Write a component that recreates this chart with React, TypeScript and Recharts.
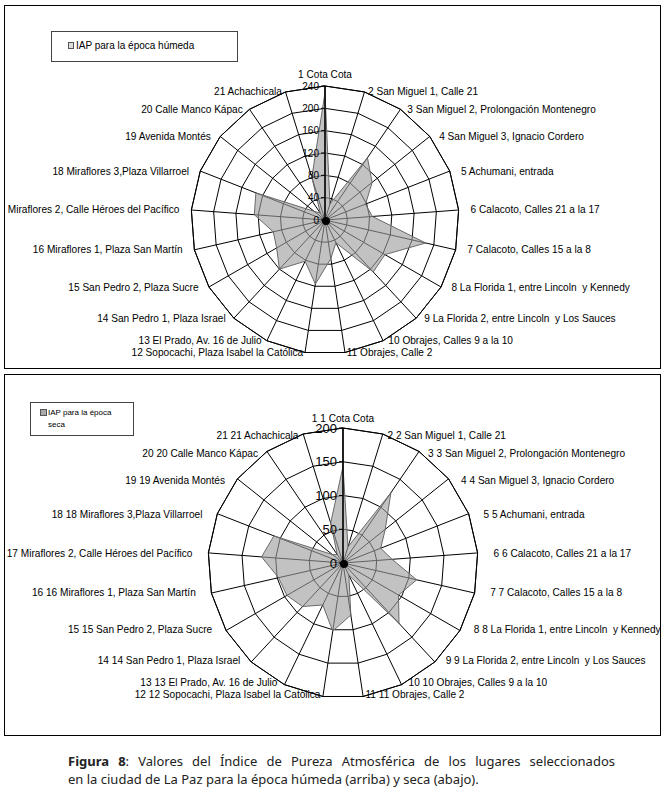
import React from "react"
import { PolarAngleAxis, PolarGrid, PolarRadiusAxis, Radar, RadarChart } from "recharts"

// sampling sites, in clockwise order from the top
const sites = [
  "Cota Cota",
  "San Miguel 1, Calle 21",
  "San Miguel 2, Prolongación Montenegro",
  "San Miguel 3, Ignacio Cordero",
  "Achumani, entrada",
  "Calacoto, Calles 21 a la 17",
  "Calacoto, Calles 15 a la 8",
  "La Florida 1, entre Lincoln  y Kennedy",
  "La Florida 2, entre Lincoln  y Los Sauces",
  "Obrajes, Calles 9 a la 10",
  "Obrajes, Calle 2",
  "Sopocachi, Plaza Isabel la Católica",
  "El Prado, Av. 16 de Julio",
  "San Pedro 1, Plaza Israel",
  "San Pedro 2, Plaza Sucre",
  "Miraflores 1, Plaza San Martín",
  "Miraflores 2, Calle Héroes del Pacífico",
  "Miraflores 3,Plaza Villarroel",
  "Avenida Montés",
  "Calle Manco Kápac",
  "Achachicala",
]

// IAP values
const humeda = [228, 30, 135, 108, 78, 85, 185, 124, 127, 45, 70, 116, 82, 120, 100, 95, 127, 133, 25, 15, 80]
const seca = [143, 25, 126, 80, 60, 73, 112, 95, 122, 20, 78, 102, 69, 88, 96, 98, 121, 110, 20, 15, 62]

const humedaTicks = [0, 40, 80, 120, 160, 200, 240]
const secaTicks = [0, 50, 100, 150, 200]

const humedaData = sites.map((site, i) => ({ site: `${i + 1} ${site}`, value: humeda[i] }))
const secaData = sites.map((site, i) => ({ site: `${i + 1} ${i + 1} ${site}`, value: seca[i] }))

const FONT = "'Liberation Sans', Arial, sans-serif"

function makeSiteTick(cx: number, cy: number, rx: number, ry: number) {
  return (props: any) => {
    const { index, payload } = props
    const a = (index / sites.length) * Math.PI * 2
    const s = Math.sin(a)
    const c = Math.cos(a)
    const x = cx + rx * s
    let y = cy - ry * c
    const anchor = s > 0.01 ? "start" : s < -0.01 ? "end" : "middle"
    if (index === 0) y -= 12
    return (
      <text
        x={x}
        y={y}
        textAnchor={anchor}
        dominantBaseline="central"
        fontSize={10.1}
        fontFamily={FONT}
        fill="#000"
        style={{ whiteSpace: "pre" }}
      >
        {payload.value}
      </text>
    )
  }
}

function makeValueTick(size: number) {
  return (props: any) => {
    const { x, y, payload } = props
    return (
      <g>
        <line x1={x - 4} x2={x} y1={y} y2={y} stroke="#000" />
        <text
          x={x - 6}
          y={y}
          textAnchor="end"
          dominantBaseline="central"
          fontSize={size}
          fontFamily={FONT}
          fill="#000"
        >
          {payload.value}
        </text>
      </g>
    )
  }
}

function Hub({ x, y }: { x: number; y: number }) {
  return (
    <div
      style={{
        position: "absolute",
        left: x - 4,
        top: y - 4,
        width: 8,
        height: 8,
        borderRadius: 4,
        background: "#000",
      }}
    />
  )
}

function Panel(props: {
  top: number
  height: number
  data: { site: string; value: number }[]
  ticks: number[]
  cx: number
  cy: number
  r: number
  rx: number
  ry: number
  tickSize: number
  children?: React.ReactNode
}) {
  const { top, height, data, ticks, cx, cy, r, rx, ry, tickSize } = props
  return (
    <div
      style={{
        position: "absolute",
        left: 4,
        top,
        width: 657,
        height,
        border: "1px solid #000",
        boxSizing: "border-box",
        overflow: "hidden",
        background: "#fff",
      }}
    >
      <RadarChart
        width={655}
        height={height - 2}
        data={data}
        cx={cx}
        cy={cy}
        outerRadius={r}
        margin={{ top: 0, right: 0, bottom: 0, left: 0 }}
      >
        <PolarGrid gridType="polygon" stroke="#000" strokeOpacity={1} />
        <PolarAngleAxis
          dataKey="site"
          tick={makeSiteTick(cx, cy, rx, ry)}
          tickLine={false}
          axisLine={{ stroke: "#000" }}
        />
        <PolarRadiusAxis
          angle={90}
          domain={[0, ticks[ticks.length - 1]]}
          tickCount={ticks.length}
          axisLine={{ stroke: "#000", strokeWidth: 1.5 }}
          tickLine={false}
          tick={makeValueTick(tickSize)}
        />
        <Radar
          dataKey="value"
          stroke="#6a6a6a"
          strokeWidth={1}
          fill="#9c9c9c"
          fillOpacity={0.62}
          dot={false}
          isAnimationActive={false}
        />
      </RadarChart>
      <Hub x={cx + 1} y={cy + 1} />
      {props.children}
    </div>
  )
}

export default function App() {
  return (
    <div
      style={{
        position: "absolute",
        left: 0,
        top: 0,
        width: 666,
        height: 797,
        background: "#fff",
        fontFamily: FONT,
      }}
    >
      <Panel top={5} height={364} data={humedaData} ticks={humedaTicks} cx={320} cy={214} r={134} rx={146} ry={134} tickSize={10}>
        <div
          style={{
            position: "absolute",
            left: 46,
            top: 25,
            width: 187,
            height: 31,
            border: "1px solid #444",
            boxSizing: "border-box",
          }}
        >
          <div
            style={{
              position: "absolute",
              left: 16,
              top: 10,
              width: 4,
              height: 5,
              border: "1px solid #555",
              background: "#ddd",
            }}
          />
          <div style={{ position: "absolute", left: 24, top: 8, fontSize: 10, lineHeight: "12px", whiteSpace: "nowrap" }}>
            IAP para la época húmeda
          </div>
        </div>
      </Panel>
      <Panel top={374} height={362} data={secaData} ticks={secaTicks} cx={338} cy={188} r={135} rx={151} ry={133} tickSize={13}>
        <div
          style={{
            position: "absolute",
            left: 25,
            top: 27,
            width: 104,
            height: 34,
            border: "1px solid #444",
            boxSizing: "border-box",
          }}
        >
          <div
            style={{
              position: "absolute",
              left: 9,
              top: 6,
              width: 5,
              height: 5,
              border: "1px solid #555",
              background: "#aaa",
            }}
          />
          <div style={{ position: "absolute", left: 17, top: 4, fontSize: 8, lineHeight: "12px", whiteSpace: "nowrap" }}>
            IAP para la época
            <br />
            seca
          </div>
        </div>
      </Panel>
      <div
        style={{
          position: "absolute",
          left: 68,
          top: 752,
          width: 547,
          fontFamily: "'Noto Sans', sans-serif",
          fontSize: 13,
          lineHeight: "18px",
          color: "#222",
        }}
      >
        <div style={{ textAlign: "justify", textAlignLast: "justify", whiteSpace: "nowrap" }}>
          <b>Figura 8</b>: Valores del Índice de Pureza Atmosférica de los lugares seleccionados
        </div>
        <div style={{ whiteSpace: "nowrap" }}>en la ciudad de La Paz para la época húmeda (arriba) y seca (abajo).</div>
      </div>
    </div>
  )
}
